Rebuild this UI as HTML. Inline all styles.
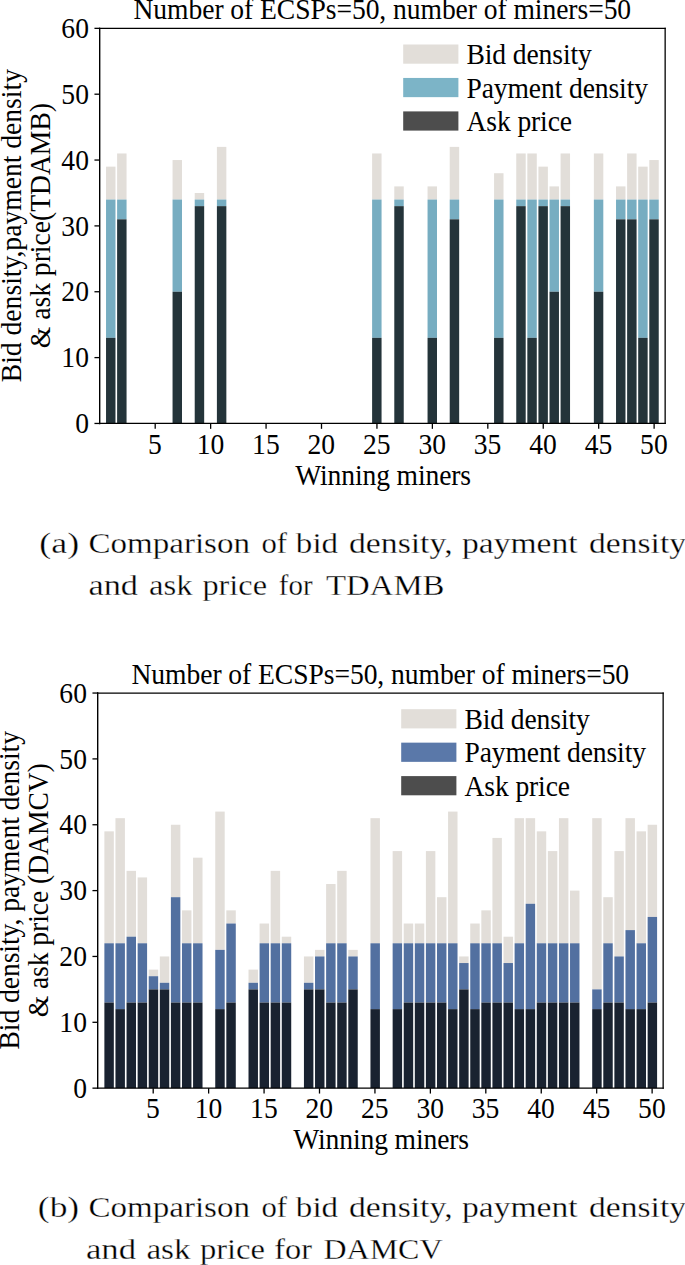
<!DOCTYPE html>
<html lang="en">
<head>
<meta charset="utf-8">
<title>Comparison of bid density, payment density and ask price</title>
<style>
html,body{margin:0;padding:0;background:#fff;}
body{width:685px;height:1265px;overflow:hidden;}
svg{display:block;}
svg text{font-family:"Liberation Serif", "DejaVu Serif", serif;fill:#000;}
</style>
</head>
<body>
<svg width="685" height="1265" viewBox="0 0 685 1265">
<rect width="685" height="1265" fill="#fff"/>
<g font-size="27.6px">
<rect x="106.03" y="166.64" width="9.45" height="32.92" fill="#e2ded9"/>
<rect x="106.03" y="199.56" width="9.45" height="138.28" fill="#77adc1"/>
<rect x="106.03" y="337.85" width="9.45" height="85.60" fill="#24343a"/>
<rect x="117.11" y="153.47" width="9.45" height="46.09" fill="#e2ded9"/>
<rect x="117.11" y="199.56" width="9.45" height="19.75" fill="#77adc1"/>
<rect x="117.11" y="219.32" width="9.45" height="204.13" fill="#24343a"/>
<rect x="172.55" y="160.05" width="9.45" height="39.51" fill="#e2ded9"/>
<rect x="172.55" y="199.56" width="9.45" height="92.19" fill="#77adc1"/>
<rect x="172.55" y="291.75" width="9.45" height="131.70" fill="#24343a"/>
<rect x="194.72" y="192.98" width="9.45" height="6.58" fill="#e2ded9"/>
<rect x="194.72" y="199.56" width="9.45" height="6.58" fill="#77adc1"/>
<rect x="194.72" y="206.15" width="9.45" height="217.30" fill="#24343a"/>
<rect x="216.90" y="146.88" width="9.45" height="52.68" fill="#e2ded9"/>
<rect x="216.90" y="199.56" width="9.45" height="6.58" fill="#77adc1"/>
<rect x="216.90" y="206.15" width="9.45" height="217.30" fill="#24343a"/>
<rect x="372.11" y="153.47" width="9.45" height="46.09" fill="#e2ded9"/>
<rect x="372.11" y="199.56" width="9.45" height="138.28" fill="#77adc1"/>
<rect x="372.11" y="337.85" width="9.45" height="85.60" fill="#24343a"/>
<rect x="394.29" y="186.39" width="9.45" height="13.17" fill="#e2ded9"/>
<rect x="394.29" y="199.56" width="9.45" height="6.58" fill="#77adc1"/>
<rect x="394.29" y="206.15" width="9.45" height="217.30" fill="#24343a"/>
<rect x="427.55" y="186.39" width="9.45" height="13.17" fill="#e2ded9"/>
<rect x="427.55" y="199.56" width="9.45" height="138.28" fill="#77adc1"/>
<rect x="427.55" y="337.85" width="9.45" height="85.60" fill="#24343a"/>
<rect x="449.72" y="146.88" width="9.45" height="52.68" fill="#e2ded9"/>
<rect x="449.72" y="199.56" width="9.45" height="19.75" fill="#77adc1"/>
<rect x="449.72" y="219.32" width="9.45" height="204.13" fill="#24343a"/>
<rect x="494.07" y="173.22" width="9.45" height="26.34" fill="#e2ded9"/>
<rect x="494.07" y="199.56" width="9.45" height="138.28" fill="#77adc1"/>
<rect x="494.07" y="337.85" width="9.45" height="85.60" fill="#24343a"/>
<rect x="516.25" y="153.47" width="9.45" height="46.09" fill="#e2ded9"/>
<rect x="516.25" y="199.56" width="9.45" height="6.58" fill="#77adc1"/>
<rect x="516.25" y="206.15" width="9.45" height="217.30" fill="#24343a"/>
<rect x="527.33" y="153.47" width="9.45" height="46.09" fill="#e2ded9"/>
<rect x="527.33" y="199.56" width="9.45" height="138.28" fill="#77adc1"/>
<rect x="527.33" y="337.85" width="9.45" height="85.60" fill="#24343a"/>
<rect x="538.42" y="166.64" width="9.45" height="32.92" fill="#e2ded9"/>
<rect x="538.42" y="199.56" width="9.45" height="6.58" fill="#77adc1"/>
<rect x="538.42" y="206.15" width="9.45" height="217.30" fill="#24343a"/>
<rect x="549.51" y="186.39" width="9.45" height="13.17" fill="#e2ded9"/>
<rect x="549.51" y="199.56" width="9.45" height="92.19" fill="#77adc1"/>
<rect x="549.51" y="291.75" width="9.45" height="131.70" fill="#24343a"/>
<rect x="560.59" y="153.47" width="9.45" height="46.09" fill="#e2ded9"/>
<rect x="560.59" y="199.56" width="9.45" height="6.58" fill="#77adc1"/>
<rect x="560.59" y="206.15" width="9.45" height="217.30" fill="#24343a"/>
<rect x="593.86" y="153.47" width="9.45" height="46.09" fill="#e2ded9"/>
<rect x="593.86" y="199.56" width="9.45" height="92.19" fill="#77adc1"/>
<rect x="593.86" y="291.75" width="9.45" height="131.70" fill="#24343a"/>
<rect x="616.03" y="186.39" width="9.45" height="13.17" fill="#e2ded9"/>
<rect x="616.03" y="199.56" width="9.45" height="19.75" fill="#77adc1"/>
<rect x="616.03" y="219.32" width="9.45" height="204.13" fill="#24343a"/>
<rect x="627.12" y="153.47" width="9.45" height="46.09" fill="#e2ded9"/>
<rect x="627.12" y="199.56" width="9.45" height="19.75" fill="#77adc1"/>
<rect x="627.12" y="219.32" width="9.45" height="204.13" fill="#24343a"/>
<rect x="638.20" y="166.64" width="9.45" height="32.92" fill="#e2ded9"/>
<rect x="638.20" y="199.56" width="9.45" height="138.28" fill="#77adc1"/>
<rect x="638.20" y="337.85" width="9.45" height="85.60" fill="#24343a"/>
<rect x="649.29" y="160.05" width="9.45" height="39.51" fill="#e2ded9"/>
<rect x="649.29" y="199.56" width="9.45" height="19.75" fill="#77adc1"/>
<rect x="649.29" y="219.32" width="9.45" height="204.13" fill="#24343a"/>
<path d="M99.70 28.35V423.45" stroke="#000" stroke-width="1.4" stroke-linecap="square" fill="none"/>
<path d="M665.15 28.35V423.45" stroke="#000" stroke-width="1.3" stroke-linecap="square" fill="none"/>
<path d="M99.70 28.35H665.15M99.70 423.45H665.15" stroke="#000" stroke-width="1.3" stroke-linecap="square" fill="none"/>
<line x1="94.45" y1="423.45" x2="99.85" y2="423.45" stroke="#000" stroke-width="1.3"/>
<text transform="translate(88.95,433.05) scale(1,1.035)" text-anchor="end">0</text>
<line x1="94.45" y1="357.60" x2="99.85" y2="357.60" stroke="#000" stroke-width="1.3"/>
<text transform="translate(88.95,367.20) scale(1,1.035)" text-anchor="end">10</text>
<line x1="94.45" y1="291.75" x2="99.85" y2="291.75" stroke="#000" stroke-width="1.3"/>
<text transform="translate(88.95,301.35) scale(1,1.035)" text-anchor="end">20</text>
<line x1="94.45" y1="225.90" x2="99.85" y2="225.90" stroke="#000" stroke-width="1.3"/>
<text transform="translate(88.95,235.50) scale(1,1.035)" text-anchor="end">30</text>
<line x1="94.45" y1="160.05" x2="99.85" y2="160.05" stroke="#000" stroke-width="1.3"/>
<text transform="translate(88.95,169.65) scale(1,1.035)" text-anchor="end">40</text>
<line x1="94.45" y1="94.20" x2="99.85" y2="94.20" stroke="#000" stroke-width="1.3"/>
<text transform="translate(88.95,103.80) scale(1,1.035)" text-anchor="end">50</text>
<line x1="94.45" y1="28.35" x2="99.85" y2="28.35" stroke="#000" stroke-width="1.3"/>
<text transform="translate(88.95,37.95) scale(1,1.035)" text-anchor="end">60</text>
<line x1="155.20" y1="423.45" x2="155.20" y2="428.85" stroke="#000" stroke-width="1.3"/>
<text transform="translate(155.00,453.75) scale(1,1.035)" text-anchor="middle">5</text>
<line x1="210.63" y1="423.45" x2="210.63" y2="428.85" stroke="#000" stroke-width="1.3"/>
<text transform="translate(210.44,453.75) scale(1,1.035)" text-anchor="middle">10</text>
<line x1="266.07" y1="423.45" x2="266.07" y2="428.85" stroke="#000" stroke-width="1.3"/>
<text transform="translate(265.87,453.75) scale(1,1.035)" text-anchor="middle">15</text>
<line x1="321.50" y1="423.45" x2="321.50" y2="428.85" stroke="#000" stroke-width="1.3"/>
<text transform="translate(321.31,453.75) scale(1,1.035)" text-anchor="middle">20</text>
<line x1="376.94" y1="423.45" x2="376.94" y2="428.85" stroke="#000" stroke-width="1.3"/>
<text transform="translate(376.74,453.75) scale(1,1.035)" text-anchor="middle">25</text>
<line x1="432.38" y1="423.45" x2="432.38" y2="428.85" stroke="#000" stroke-width="1.3"/>
<text transform="translate(432.18,453.75) scale(1,1.035)" text-anchor="middle">30</text>
<line x1="487.81" y1="423.45" x2="487.81" y2="428.85" stroke="#000" stroke-width="1.3"/>
<text transform="translate(487.61,453.75) scale(1,1.035)" text-anchor="middle">35</text>
<line x1="543.25" y1="423.45" x2="543.25" y2="428.85" stroke="#000" stroke-width="1.3"/>
<text transform="translate(543.04,453.75) scale(1,1.035)" text-anchor="middle">40</text>
<line x1="598.68" y1="423.45" x2="598.68" y2="428.85" stroke="#000" stroke-width="1.3"/>
<text transform="translate(598.48,453.75) scale(1,1.035)" text-anchor="middle">45</text>
<line x1="654.12" y1="423.45" x2="654.12" y2="428.85" stroke="#000" stroke-width="1.3"/>
<text transform="translate(653.91,453.75) scale(1,1.035)" text-anchor="middle">50</text>
<text transform="translate(382.30,19.45) scale(1,1.035)" text-anchor="middle" letter-spacing="-0.065">Number of ECSPs=50, number of miners=50</text>
<text transform="translate(383.10,484.55) scale(1,1.035)" text-anchor="middle" letter-spacing="-0.12">Winning miners</text>
<text transform="translate(20.75,225.60) rotate(-90) scale(1,1.035)" text-anchor="middle">Bid density,payment density</text>
<text transform="translate(49.95,225.60) rotate(-90) scale(1,1.035)" text-anchor="middle">&amp; ask price(TDAMB)</text>
<rect x="403.20" y="44.50" width="55.2" height="19.2" fill="#e2ded9"/>
<text transform="translate(466.50,64.30) scale(1,1.035)" letter-spacing="-0.12">Bid density</text>
<rect x="403.20" y="77.95" width="55.2" height="19.2" fill="#7cb4c7"/>
<text transform="translate(466.50,97.75) scale(1,1.035)" letter-spacing="-0.12">Payment density</text>
<rect x="403.20" y="111.40" width="55.2" height="19.2" fill="#4d4d4d"/>
<text transform="translate(466.50,131.20) scale(1,1.035)" letter-spacing="-0.12">Ask price</text>
<rect x="104.38" y="831.34" width="9.45" height="111.94" fill="#e2ded9"/>
<rect x="104.38" y="943.28" width="9.45" height="59.27" fill="#5270a0"/>
<rect x="104.38" y="1002.55" width="9.45" height="85.61" fill="#192230"/>
<rect x="115.46" y="818.17" width="9.45" height="125.11" fill="#e2ded9"/>
<rect x="115.46" y="943.28" width="9.45" height="65.85" fill="#5270a0"/>
<rect x="115.46" y="1009.13" width="9.45" height="79.02" fill="#192230"/>
<rect x="126.55" y="870.85" width="9.45" height="65.85" fill="#e2ded9"/>
<rect x="126.55" y="936.70" width="9.45" height="65.85" fill="#5270a0"/>
<rect x="126.55" y="1002.55" width="9.45" height="85.61" fill="#192230"/>
<rect x="137.64" y="877.43" width="9.45" height="65.85" fill="#e2ded9"/>
<rect x="137.64" y="943.28" width="9.45" height="59.27" fill="#5270a0"/>
<rect x="137.64" y="1002.55" width="9.45" height="85.61" fill="#192230"/>
<rect x="148.72" y="969.62" width="9.45" height="6.58" fill="#e2ded9"/>
<rect x="148.72" y="976.21" width="9.45" height="13.17" fill="#5270a0"/>
<rect x="148.72" y="989.38" width="9.45" height="98.78" fill="#192230"/>
<rect x="159.81" y="956.45" width="9.45" height="26.34" fill="#e2ded9"/>
<rect x="159.81" y="982.79" width="9.45" height="6.58" fill="#5270a0"/>
<rect x="159.81" y="989.38" width="9.45" height="98.78" fill="#192230"/>
<rect x="170.90" y="824.75" width="9.45" height="72.44" fill="#e2ded9"/>
<rect x="170.90" y="897.19" width="9.45" height="105.36" fill="#5270a0"/>
<rect x="170.90" y="1002.55" width="9.45" height="85.61" fill="#192230"/>
<rect x="181.99" y="910.36" width="9.45" height="32.92" fill="#e2ded9"/>
<rect x="181.99" y="943.28" width="9.45" height="59.27" fill="#5270a0"/>
<rect x="181.99" y="1002.55" width="9.45" height="85.61" fill="#192230"/>
<rect x="193.07" y="857.68" width="9.45" height="85.61" fill="#e2ded9"/>
<rect x="193.07" y="943.28" width="9.45" height="59.27" fill="#5270a0"/>
<rect x="193.07" y="1002.55" width="9.45" height="85.61" fill="#192230"/>
<rect x="215.25" y="811.58" width="9.45" height="138.28" fill="#e2ded9"/>
<rect x="215.25" y="949.87" width="9.45" height="59.27" fill="#5270a0"/>
<rect x="215.25" y="1009.13" width="9.45" height="79.02" fill="#192230"/>
<rect x="226.33" y="910.36" width="9.45" height="13.17" fill="#e2ded9"/>
<rect x="226.33" y="923.53" width="9.45" height="79.02" fill="#5270a0"/>
<rect x="226.33" y="1002.55" width="9.45" height="85.61" fill="#192230"/>
<rect x="248.51" y="969.62" width="9.45" height="13.17" fill="#e2ded9"/>
<rect x="248.51" y="982.79" width="9.45" height="6.58" fill="#5270a0"/>
<rect x="248.51" y="989.38" width="9.45" height="98.78" fill="#192230"/>
<rect x="259.59" y="923.53" width="9.45" height="19.75" fill="#e2ded9"/>
<rect x="259.59" y="943.28" width="9.45" height="59.27" fill="#5270a0"/>
<rect x="259.59" y="1002.55" width="9.45" height="85.61" fill="#192230"/>
<rect x="270.68" y="870.85" width="9.45" height="72.44" fill="#e2ded9"/>
<rect x="270.68" y="943.28" width="9.45" height="59.27" fill="#5270a0"/>
<rect x="270.68" y="1002.55" width="9.45" height="85.61" fill="#192230"/>
<rect x="281.77" y="936.70" width="9.45" height="6.58" fill="#e2ded9"/>
<rect x="281.77" y="943.28" width="9.45" height="59.27" fill="#5270a0"/>
<rect x="281.77" y="1002.55" width="9.45" height="85.61" fill="#192230"/>
<rect x="303.94" y="956.45" width="9.45" height="26.34" fill="#e2ded9"/>
<rect x="303.94" y="982.79" width="9.45" height="6.58" fill="#5270a0"/>
<rect x="303.94" y="989.38" width="9.45" height="98.78" fill="#192230"/>
<rect x="315.03" y="949.87" width="9.45" height="6.58" fill="#e2ded9"/>
<rect x="315.03" y="956.45" width="9.45" height="32.92" fill="#5270a0"/>
<rect x="315.03" y="989.38" width="9.45" height="98.78" fill="#192230"/>
<rect x="326.12" y="884.02" width="9.45" height="59.27" fill="#e2ded9"/>
<rect x="326.12" y="943.28" width="9.45" height="59.27" fill="#5270a0"/>
<rect x="326.12" y="1002.55" width="9.45" height="85.61" fill="#192230"/>
<rect x="337.20" y="870.85" width="9.45" height="72.44" fill="#e2ded9"/>
<rect x="337.20" y="943.28" width="9.45" height="59.27" fill="#5270a0"/>
<rect x="337.20" y="1002.55" width="9.45" height="85.61" fill="#192230"/>
<rect x="348.29" y="949.87" width="9.45" height="6.58" fill="#e2ded9"/>
<rect x="348.29" y="956.45" width="9.45" height="32.92" fill="#5270a0"/>
<rect x="348.29" y="989.38" width="9.45" height="98.78" fill="#192230"/>
<rect x="370.46" y="818.17" width="9.45" height="125.11" fill="#e2ded9"/>
<rect x="370.46" y="943.28" width="9.45" height="65.85" fill="#5270a0"/>
<rect x="370.46" y="1009.13" width="9.45" height="79.02" fill="#192230"/>
<rect x="392.64" y="851.09" width="9.45" height="92.19" fill="#e2ded9"/>
<rect x="392.64" y="943.28" width="9.45" height="65.85" fill="#5270a0"/>
<rect x="392.64" y="1009.13" width="9.45" height="79.02" fill="#192230"/>
<rect x="403.73" y="923.53" width="9.45" height="19.75" fill="#e2ded9"/>
<rect x="403.73" y="943.28" width="9.45" height="59.27" fill="#5270a0"/>
<rect x="403.73" y="1002.55" width="9.45" height="85.61" fill="#192230"/>
<rect x="414.81" y="923.53" width="9.45" height="19.75" fill="#e2ded9"/>
<rect x="414.81" y="943.28" width="9.45" height="59.27" fill="#5270a0"/>
<rect x="414.81" y="1002.55" width="9.45" height="85.61" fill="#192230"/>
<rect x="425.90" y="851.09" width="9.45" height="92.19" fill="#e2ded9"/>
<rect x="425.90" y="943.28" width="9.45" height="59.27" fill="#5270a0"/>
<rect x="425.90" y="1002.55" width="9.45" height="85.61" fill="#192230"/>
<rect x="436.99" y="897.19" width="9.45" height="46.09" fill="#e2ded9"/>
<rect x="436.99" y="943.28" width="9.45" height="59.27" fill="#5270a0"/>
<rect x="436.99" y="1002.55" width="9.45" height="85.61" fill="#192230"/>
<rect x="448.07" y="811.58" width="9.45" height="131.70" fill="#e2ded9"/>
<rect x="448.07" y="943.28" width="9.45" height="65.85" fill="#5270a0"/>
<rect x="448.07" y="1009.13" width="9.45" height="79.02" fill="#192230"/>
<rect x="459.16" y="956.45" width="9.45" height="6.58" fill="#e2ded9"/>
<rect x="459.16" y="963.04" width="9.45" height="26.34" fill="#5270a0"/>
<rect x="459.16" y="989.38" width="9.45" height="98.78" fill="#192230"/>
<rect x="470.25" y="923.53" width="9.45" height="19.75" fill="#e2ded9"/>
<rect x="470.25" y="943.28" width="9.45" height="65.85" fill="#5270a0"/>
<rect x="470.25" y="1009.13" width="9.45" height="79.02" fill="#192230"/>
<rect x="481.33" y="910.36" width="9.45" height="32.92" fill="#e2ded9"/>
<rect x="481.33" y="943.28" width="9.45" height="59.27" fill="#5270a0"/>
<rect x="481.33" y="1002.55" width="9.45" height="85.61" fill="#192230"/>
<rect x="492.42" y="837.92" width="9.45" height="105.36" fill="#e2ded9"/>
<rect x="492.42" y="943.28" width="9.45" height="59.27" fill="#5270a0"/>
<rect x="492.42" y="1002.55" width="9.45" height="85.61" fill="#192230"/>
<rect x="503.51" y="936.70" width="9.45" height="26.34" fill="#e2ded9"/>
<rect x="503.51" y="963.04" width="9.45" height="39.51" fill="#5270a0"/>
<rect x="503.51" y="1002.55" width="9.45" height="85.61" fill="#192230"/>
<rect x="514.60" y="818.17" width="9.45" height="125.11" fill="#e2ded9"/>
<rect x="514.60" y="943.28" width="9.45" height="65.85" fill="#5270a0"/>
<rect x="514.60" y="1009.13" width="9.45" height="79.02" fill="#192230"/>
<rect x="525.68" y="818.17" width="9.45" height="85.61" fill="#e2ded9"/>
<rect x="525.68" y="903.77" width="9.45" height="105.36" fill="#5270a0"/>
<rect x="525.68" y="1009.13" width="9.45" height="79.02" fill="#192230"/>
<rect x="536.77" y="831.34" width="9.45" height="111.94" fill="#e2ded9"/>
<rect x="536.77" y="943.28" width="9.45" height="59.27" fill="#5270a0"/>
<rect x="536.77" y="1002.55" width="9.45" height="85.61" fill="#192230"/>
<rect x="547.86" y="851.09" width="9.45" height="92.19" fill="#e2ded9"/>
<rect x="547.86" y="943.28" width="9.45" height="59.27" fill="#5270a0"/>
<rect x="547.86" y="1002.55" width="9.45" height="85.61" fill="#192230"/>
<rect x="558.94" y="818.17" width="9.45" height="125.11" fill="#e2ded9"/>
<rect x="558.94" y="943.28" width="9.45" height="59.27" fill="#5270a0"/>
<rect x="558.94" y="1002.55" width="9.45" height="85.61" fill="#192230"/>
<rect x="570.03" y="890.60" width="9.45" height="52.68" fill="#e2ded9"/>
<rect x="570.03" y="943.28" width="9.45" height="59.27" fill="#5270a0"/>
<rect x="570.03" y="1002.55" width="9.45" height="85.61" fill="#192230"/>
<rect x="592.21" y="818.17" width="9.45" height="171.21" fill="#e2ded9"/>
<rect x="592.21" y="989.38" width="9.45" height="19.75" fill="#5270a0"/>
<rect x="592.21" y="1009.13" width="9.45" height="79.02" fill="#192230"/>
<rect x="603.29" y="897.19" width="9.45" height="46.09" fill="#e2ded9"/>
<rect x="603.29" y="943.28" width="9.45" height="59.27" fill="#5270a0"/>
<rect x="603.29" y="1002.55" width="9.45" height="85.61" fill="#192230"/>
<rect x="614.38" y="851.09" width="9.45" height="105.36" fill="#e2ded9"/>
<rect x="614.38" y="956.45" width="9.45" height="46.09" fill="#5270a0"/>
<rect x="614.38" y="1002.55" width="9.45" height="85.61" fill="#192230"/>
<rect x="625.47" y="818.17" width="9.45" height="111.94" fill="#e2ded9"/>
<rect x="625.47" y="930.11" width="9.45" height="79.02" fill="#5270a0"/>
<rect x="625.47" y="1009.13" width="9.45" height="79.02" fill="#192230"/>
<rect x="636.55" y="831.34" width="9.45" height="111.94" fill="#e2ded9"/>
<rect x="636.55" y="943.28" width="9.45" height="65.85" fill="#5270a0"/>
<rect x="636.55" y="1009.13" width="9.45" height="79.02" fill="#192230"/>
<rect x="647.64" y="824.75" width="9.45" height="92.19" fill="#e2ded9"/>
<rect x="647.64" y="916.94" width="9.45" height="85.61" fill="#5270a0"/>
<rect x="647.64" y="1002.55" width="9.45" height="85.61" fill="#192230"/>
<path d="M97.70 693.05V1088.15" stroke="#000" stroke-width="1.4" stroke-linecap="square" fill="none"/>
<path d="M663.15 693.05V1088.15" stroke="#000" stroke-width="1.3" stroke-linecap="square" fill="none"/>
<path d="M97.70 693.05H663.15M97.70 1088.15H663.15" stroke="#000" stroke-width="1.3" stroke-linecap="square" fill="none"/>
<line x1="92.45" y1="1088.15" x2="97.85" y2="1088.15" stroke="#000" stroke-width="1.3"/>
<text transform="translate(86.95,1097.75) scale(1,1.035)" text-anchor="end">0</text>
<line x1="92.45" y1="1022.30" x2="97.85" y2="1022.30" stroke="#000" stroke-width="1.3"/>
<text transform="translate(86.95,1031.90) scale(1,1.035)" text-anchor="end">10</text>
<line x1="92.45" y1="956.45" x2="97.85" y2="956.45" stroke="#000" stroke-width="1.3"/>
<text transform="translate(86.95,966.05) scale(1,1.035)" text-anchor="end">20</text>
<line x1="92.45" y1="890.60" x2="97.85" y2="890.60" stroke="#000" stroke-width="1.3"/>
<text transform="translate(86.95,900.20) scale(1,1.035)" text-anchor="end">30</text>
<line x1="92.45" y1="824.75" x2="97.85" y2="824.75" stroke="#000" stroke-width="1.3"/>
<text transform="translate(86.95,834.35) scale(1,1.035)" text-anchor="end">40</text>
<line x1="92.45" y1="758.90" x2="97.85" y2="758.90" stroke="#000" stroke-width="1.3"/>
<text transform="translate(86.95,768.50) scale(1,1.035)" text-anchor="end">50</text>
<line x1="92.45" y1="693.05" x2="97.85" y2="693.05" stroke="#000" stroke-width="1.3"/>
<text transform="translate(86.95,702.65) scale(1,1.035)" text-anchor="end">60</text>
<line x1="153.20" y1="1088.15" x2="153.20" y2="1093.55" stroke="#000" stroke-width="1.3"/>
<text transform="translate(153.00,1117.95) scale(1,1.035)" text-anchor="middle">5</text>
<line x1="208.63" y1="1088.15" x2="208.63" y2="1093.55" stroke="#000" stroke-width="1.3"/>
<text transform="translate(208.44,1117.95) scale(1,1.035)" text-anchor="middle">10</text>
<line x1="264.07" y1="1088.15" x2="264.07" y2="1093.55" stroke="#000" stroke-width="1.3"/>
<text transform="translate(263.87,1117.95) scale(1,1.035)" text-anchor="middle">15</text>
<line x1="319.50" y1="1088.15" x2="319.50" y2="1093.55" stroke="#000" stroke-width="1.3"/>
<text transform="translate(319.31,1117.95) scale(1,1.035)" text-anchor="middle">20</text>
<line x1="374.94" y1="1088.15" x2="374.94" y2="1093.55" stroke="#000" stroke-width="1.3"/>
<text transform="translate(374.74,1117.95) scale(1,1.035)" text-anchor="middle">25</text>
<line x1="430.38" y1="1088.15" x2="430.38" y2="1093.55" stroke="#000" stroke-width="1.3"/>
<text transform="translate(430.18,1117.95) scale(1,1.035)" text-anchor="middle">30</text>
<line x1="485.81" y1="1088.15" x2="485.81" y2="1093.55" stroke="#000" stroke-width="1.3"/>
<text transform="translate(485.61,1117.95) scale(1,1.035)" text-anchor="middle">35</text>
<line x1="541.25" y1="1088.15" x2="541.25" y2="1093.55" stroke="#000" stroke-width="1.3"/>
<text transform="translate(541.04,1117.95) scale(1,1.035)" text-anchor="middle">40</text>
<line x1="596.68" y1="1088.15" x2="596.68" y2="1093.55" stroke="#000" stroke-width="1.3"/>
<text transform="translate(596.48,1117.95) scale(1,1.035)" text-anchor="middle">45</text>
<line x1="652.12" y1="1088.15" x2="652.12" y2="1093.55" stroke="#000" stroke-width="1.3"/>
<text transform="translate(651.91,1117.95) scale(1,1.035)" text-anchor="middle">50</text>
<text transform="translate(380.30,684.15) scale(1,1.035)" text-anchor="middle" letter-spacing="-0.065">Number of ECSPs=50, number of miners=50</text>
<text transform="translate(381.10,1149.25) scale(1,1.035)" text-anchor="middle" letter-spacing="-0.12">Winning miners</text>
<text transform="translate(18.75,890.30) rotate(-90) scale(1,1.035)" text-anchor="middle" letter-spacing="-0.06">Bid density, payment density</text>
<text transform="translate(47.95,890.30) rotate(-90) scale(1,1.035)" text-anchor="middle" letter-spacing="-0.06">&amp; ask price (DAMCV)</text>
<rect x="401.20" y="709.20" width="55.2" height="19.2" fill="#e2ded9"/>
<text transform="translate(464.50,729.00) scale(1,1.035)" letter-spacing="-0.12">Bid density</text>
<rect x="401.20" y="742.65" width="55.2" height="19.2" fill="#5a78a9"/>
<text transform="translate(464.50,762.45) scale(1,1.035)" letter-spacing="-0.12">Payment density</text>
<rect x="401.20" y="776.10" width="55.2" height="19.2" fill="#4d4d4d"/>
<text transform="translate(464.50,795.90) scale(1,1.035)" letter-spacing="-0.12">Ask price</text>
</g>
<g font-size="28.5px" fill="#141414" stroke="#fff" stroke-width="0.3">
<text y="552.75"><tspan x="39.30" textLength="39.83" lengthAdjust="spacingAndGlyphs">(a)</tspan> <tspan x="88.46" textLength="161.57" lengthAdjust="spacingAndGlyphs">Comparison</tspan> <tspan x="261.42" textLength="25.58" lengthAdjust="spacingAndGlyphs">of</tspan> <tspan x="295.89" textLength="42.18" lengthAdjust="spacingAndGlyphs">bid</tspan> <tspan x="348.97" textLength="103.61" lengthAdjust="spacingAndGlyphs">density,</tspan> <tspan x="461.99" textLength="115.56" lengthAdjust="spacingAndGlyphs">payment</tspan> <tspan x="588.98" textLength="97.04" lengthAdjust="spacingAndGlyphs">density</tspan></text>
<text y="595.20"><tspan x="88.42" textLength="49.63" lengthAdjust="spacingAndGlyphs">and</tspan> <tspan x="148.95" textLength="43.60" lengthAdjust="spacingAndGlyphs">ask</tspan> <tspan x="202.45" textLength="64.58" lengthAdjust="spacingAndGlyphs">price</tspan> <tspan x="278.88" textLength="33.67" lengthAdjust="spacingAndGlyphs">for</tspan> <tspan x="325.99" textLength="118.54" lengthAdjust="spacingAndGlyphs">TDAMB</tspan></text>
<text y="1217.45"><tspan x="37.85" textLength="41.27" lengthAdjust="spacingAndGlyphs">(b)</tspan> <tspan x="88.46" textLength="161.57" lengthAdjust="spacingAndGlyphs">Comparison</tspan> <tspan x="261.42" textLength="25.58" lengthAdjust="spacingAndGlyphs">of</tspan> <tspan x="295.89" textLength="42.18" lengthAdjust="spacingAndGlyphs">bid</tspan> <tspan x="348.97" textLength="103.61" lengthAdjust="spacingAndGlyphs">density,</tspan> <tspan x="461.99" textLength="115.56" lengthAdjust="spacingAndGlyphs">payment</tspan> <tspan x="588.98" textLength="97.04" lengthAdjust="spacingAndGlyphs">density</tspan></text>
<text y="1259.15"><tspan x="85.96" textLength="50.10" lengthAdjust="spacingAndGlyphs">and</tspan> <tspan x="146.40" textLength="44.19" lengthAdjust="spacingAndGlyphs">ask</tspan> <tspan x="199.93" textLength="65.12" lengthAdjust="spacingAndGlyphs">price</tspan> <tspan x="274.35" textLength="37.68" lengthAdjust="spacingAndGlyphs">for</tspan> <tspan x="323.46" textLength="119.08" lengthAdjust="spacingAndGlyphs">DAMCV</tspan></text>
</g>
</svg>
</body>
</html>
